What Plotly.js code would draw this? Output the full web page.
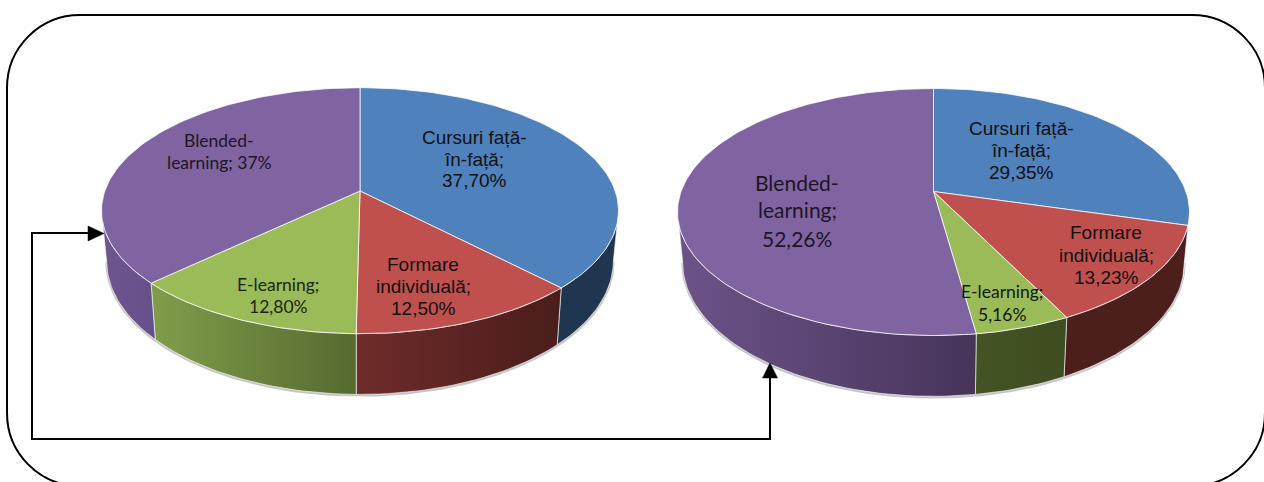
<!DOCTYPE html>
<html>
<head>
<meta charset="utf-8">
<script src="https://cdn.plot.ly/plotly-3.0.1.min.js"></script>
<style>html,body{margin:0;padding:0;background:#fff;overflow:hidden}#chart{width:1264px;height:482px}</style>
</head>
<body>
<div id="chart"></div>
<script>
const categories = ["Cursuri față-în-față", "Formare individuală", "E-learning", "Blended-learning"];
const valuesLeft = [37.70, 12.50, 12.80, 37.00];
const valuesRight = [29.35, 13.23, 5.16, 52.26];
const labelsLeft = [["Cursuri față-", "în-față;", "37,70%"], ["Formare", "individuală;", "12,50%"], ["E-learning;", "12,80%"], ["Blended-", "learning; 37%"]];
const labelsRight = [["Cursuri față-", "în-față;", "29,35%"], ["Formare", "individuală;", "13,23%"], ["E-learning;", "5,16%"], ["Blended-", "learning;", "52,26%"]];

const topColors = ["#4F81BD", "#C0504D", "#9BBB59", "#8064A2"];
const wallLeft = [["#1F3650", "#1F3650"], ["#6E2C2A", "#4A1D1B"], ["#809D4A", "#566A30"], ["#6E5590", "#66508A"]];
const wallRight = [["#1F3650", "#1F3650"], ["#4C1E1C", "#4C1E1C"], ["#445424", "#3E4C21"], ["#6C5389", "#46345A"]];

const pieLeft = {cx: 360, cy: 191, T: 103.3, B: 142.7, R: 258.5, walls: wallLeft, values: valuesLeft};
const pieRight = {cx: 933.5, cy: 191.5, T: 103, B: 144, R: 256, walls: wallRight, values: valuesRight};

function project(p, deg) {
  const k = (p.T - p.B) / (p.T + p.B);
  const A = p.T * (1 - k);
  const B0 = p.R * Math.sqrt(1 - k * k);
  const t = deg * Math.PI / 180;
  const u = Math.sin(t), v = Math.cos(t), d = 1 - k * v;
  return {X: B0 * u / d, Y: A * v / d};
}
const toTop = (p, q) => [p.cx + q.X, p.cy - q.Y];
const toBottom = (p, q) => [p.cx + 0.98 * q.X, p.cy - (q.Y * 1.085 - 48.6)];
function range(a, b) {
  const out = [], n = Math.max(2, Math.ceil((b - a) / 1.5));
  for (let i = 0; i <= n; i++) out.push(a + (b - a) * i / n);
  return out;
}
function pieTraces(p) {
  const total = p.values.reduce((s, x) => s + x, 0);
  const walls = [], tops = [];
  const k0 = 99.4, k1 = 260.6;
  const sh = range(k0, k1).map(d => toBottom(p, project(p, d)));
  walls.push({x: sh.map(q => q[0]), y: sh.map(q => q[1] + 1), mode: "lines", line: {color: "#C6C6C6", width: 2.5}, hoverinfo: "skip"});
  let cum = 0;
  p.values.forEach((val, i) => {
    const a = cum / total * 360, b = (cum + val) / total * 360;
    cum += val;
    const w0 = Math.max(a, k0), w1 = Math.min(b, k1);
    if (w1 > w0) {
      const arc = range(w0, w1).map(d => project(p, d));
      const up = arc.map(q => toTop(p, q));
      const lo = arc.map(q => toBottom(p, q)).reverse();
      const all = up.concat(lo);
      all.push(up[0]);
      walls.push({x: all.map(q => q[0]), y: all.map(q => q[1]), mode: "lines", fill: "toself",
        fillgradient: {type: "horizontal", colorscale: [[0, p.walls[i][0]], [1, p.walls[i][1]]]},
        line: {color: "rgba(255,255,255,0.75)", width: 0.8}, hoverinfo: "skip"});
    }
    const arc2 = range(a, b).map(d => toTop(p, project(p, d)));
    const poly = [[p.cx, p.cy]].concat(arc2, [[p.cx, p.cy]]);
    tops.push({x: poly.map(q => q[0]), y: poly.map(q => q[1]), mode: "lines", fill: "toself",
      fillcolor: topColors[i], line: {color: "rgba(255,255,255,0.85)", width: 0.9}, hoverinfo: "skip", name: categories[i]});
  });
  return walls.concat(tops);
}
const data = pieTraces(pieLeft).concat(pieTraces(pieRight));

function notes(lines, x, ys, size, family, color) {
  return lines.map((text, i) => ({text, x, y: ys[i], xref: "x", yref: "y", xanchor: "center", yanchor: "middle", showarrow: false,
    font: {size, family, color: color || "#111"}}));
}
const sans = "Liberation Sans, Arial, sans-serif", cal = "Lato, sans-serif";
const annotations = [].concat(
  notes(labelsLeft[0], 474, [137, 159, 180], 19, sans),
  notes(labelsLeft[1], 423, [264, 286, 308], 19, sans),
  notes(labelsLeft[2], 278, [284, 306], 17.5, cal, "#1c2410"),
  notes(labelsLeft[3], 219, [140, 162], 17.5, cal, "#1d1526"),
  notes(labelsRight[0], 1021, [128, 150, 172], 19, sans),
  notes(labelsRight[1], 1106, [232, 255, 277], 19, sans),
  notes(labelsRight[2], 1002, [291, 314], 17.5, cal, "#10180a"),
  notes(labelsRight[3], 797, [182, 209, 238], 21, cal, "#1d1526")
);

const c = 0.5523 * 73;
const shapes = [
  {type: "path", path: `M 80,15 L 1192,15 C ${1192 + c},15 1265,${88 - c} 1265,88 L 1265,413 C 1265,${413 + c} ${1192 + c},486 1192,486 L 80,486 C ${80 - c},486 7,${413 + c} 7,413 L 7,88 C 7,${88 - c} ${80 - c},15 80,15 Z`,
    line: {color: "#000", width: 2}, fillcolor: "rgba(0,0,0,0)", xref: "x", yref: "y"},
  {type: "path", path: "M 90,233 L 32,233 L 32,439 L 770,439 L 770,376", line: {color: "#000", width: 2}, fillcolor: "rgba(0,0,0,0)", xref: "x", yref: "y"},
  {type: "path", path: "M 104,233.5 L 88,226 L 88,241 Z", line: {color: "#000", width: 0.5}, fillcolor: "#000", xref: "x", yref: "y"},
  {type: "path", path: "M 770,363 L 762.5,378 L 777.5,378 Z", line: {color: "#000", width: 0.5}, fillcolor: "#000", xref: "x", yref: "y"}
];

const layout = {
  width: 1264, height: 482, margin: {l: 0, r: 0, t: 0, b: 0}, showlegend: false,
  paper_bgcolor: "#fff", plot_bgcolor: "#fff",
  xaxis: {range: [0, 1264], visible: false, fixedrange: true},
  yaxis: {range: [482, 0], visible: false, fixedrange: true},
  annotations, shapes
};
Plotly.newPlot("chart", data, layout, {displayModeBar: false, staticPlot: true});
</script>
</body>
</html>
